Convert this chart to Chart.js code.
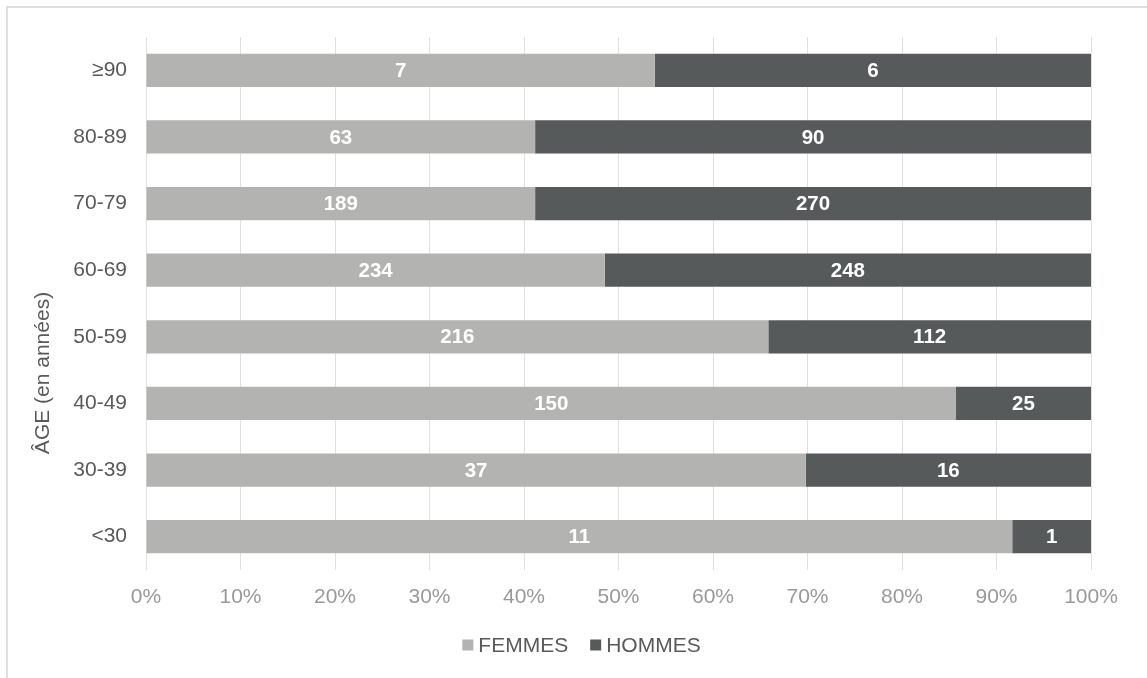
<!DOCTYPE html>
<html><head><meta charset="utf-8">
<script src="https://cdn.jsdelivr.net/npm/chart.js@4"></script>
<style>
html,body{margin:0;padding:0;background:#fff;overflow:hidden;width:1147px;height:678px}
#frame{position:absolute;left:6px;top:6px;width:1170px;height:720px;border:2px solid #dedede;box-sizing:border-box}
#wrap{position:absolute;left:0;top:0;width:1147px;height:678px}
</style></head><body>
<div id="frame"></div>
<div id="wrap"><canvas id="c" width="1147" height="678"></canvas></div>
<script>
const categories = ['≥90','80-89','70-79','60-69','50-59','40-49','30-39','<30'];
const femmes = [7, 63, 189, 234, 216, 150, 37, 11];
const hommes = [6, 90, 270, 248, 112, 25, 16, 1];
const seriesNames = ['FEMMES', 'HOMMES'];
const seriesColors = ['#b3b4b2', '#575a5b'];
const xTickStep = 10;
const yTitle = 'ÂGE (en années)';

const totals = categories.map((_, i) => femmes[i] + hommes[i]);
const femmesPct = femmes.map((v, i) => v / totals[i] * 100);
const hommesPct = hommes.map((v, i) => v / totals[i] * 100);
const counts = [femmes, hommes];

const FONT = "'Liberation Sans', Arial, sans-serif";

const valueLabels = {
  id: 'valueLabels',
  afterDatasetsDraw(chart) {
    const ctx = chart.ctx;
    ctx.save();
    ctx.fillStyle = '#ffffff';
    ctx.font = 'bold 20.5px ' + FONT;
    ctx.textAlign = 'center';
    ctx.textBaseline = 'middle';
    chart.data.datasets.forEach((ds, di) => {
      const meta = chart.getDatasetMeta(di);
      meta.data.forEach((el, i) => {
        const x = (el.x + el.base) / 2;
        ctx.fillText(String(counts[di][i]), x, el.y + 1);
      });
    });
    ctx.restore();
  }
};

const axisTitle = {
  id: 'axisTitle',
  afterDraw(chart) {
    const ctx = chart.ctx;
    ctx.save();
    ctx.font = '21px ' + FONT;
    ctx.fillStyle = '#595959';
    ctx.textAlign = 'center';
    ctx.textBaseline = 'middle';
    ctx.translate(43, 373);
    ctx.rotate(-Math.PI / 2);
    ctx.fillText(yTitle, 0, 0);
    ctx.restore();
  }
};

const customLegend = {
  id: 'customLegend',
  afterDraw(chart) {
    const ctx = chart.ctx;
    ctx.save();
    ctx.font = '21px ' + FONT;
    ctx.textBaseline = 'middle';
    const box = 11, gapText = 5, gapItem = 22;
    const items = chart.data.datasets.map(ds => ({text: ds.label, color: ds.backgroundColor, w: ctx.measureText(ds.label).width}));
    let total = items.reduce((s, it) => s + box + gapText + it.w, 0) + gapItem * (items.length - 1);
    let x = 581.5 - total / 2;
    const y = 645;
    items.forEach(it => {
      ctx.fillStyle = it.color;
      ctx.fillRect(x, y - box / 2, box, box);
      x += box + gapText;
      ctx.fillStyle = '#595959';
      ctx.textAlign = 'left';
      ctx.fillText(it.text, x, y + 1);
      x += it.w + gapItem;
    });
    ctx.restore();
  }
};

new Chart(document.getElementById('c'), {
  type: 'bar',
  data: {
    labels: categories,
    datasets: [
      {label: seriesNames[0], data: femmesPct, backgroundColor: seriesColors[0], barPercentage: 0.5, categoryPercentage: 1.0},
      {label: seriesNames[1], data: hommesPct, backgroundColor: seriesColors[1], barPercentage: 0.5, categoryPercentage: 1.0}
    ]
  },
  options: {
    indexAxis: 'y',
    responsive: false,
    animation: false,
    devicePixelRatio: 1,
    layout: {padding: {left: 0, right: 56, top: 37, bottom: 68}},
    plugins: {legend: {display: false}, tooltip: {enabled: false}},
    scales: {
      x: {
        stacked: true, min: 0, max: 100,
        border: {display: false},
        grid: {color: '#e0e0e0', lineWidth: 1, drawTicks: false},
        ticks: {stepSize: xTickStep, color: '#999999', font: {family: FONT, size: 21}, padding: 15,
          callback: v => v + '%'},
        afterFit: s => { s.height = 40; }
      },
      y: {
        stacked: true,
        border: {display: false},
        grid: {display: false, drawTicks: false},
        ticks: {color: '#595959', font: {family: FONT, size: 21}, padding: 19},
        afterFit: s => { s.width = 146; }
      }
    }
  },
  plugins: [valueLabels, axisTitle, customLegend]
});
</script>
</body></html>
